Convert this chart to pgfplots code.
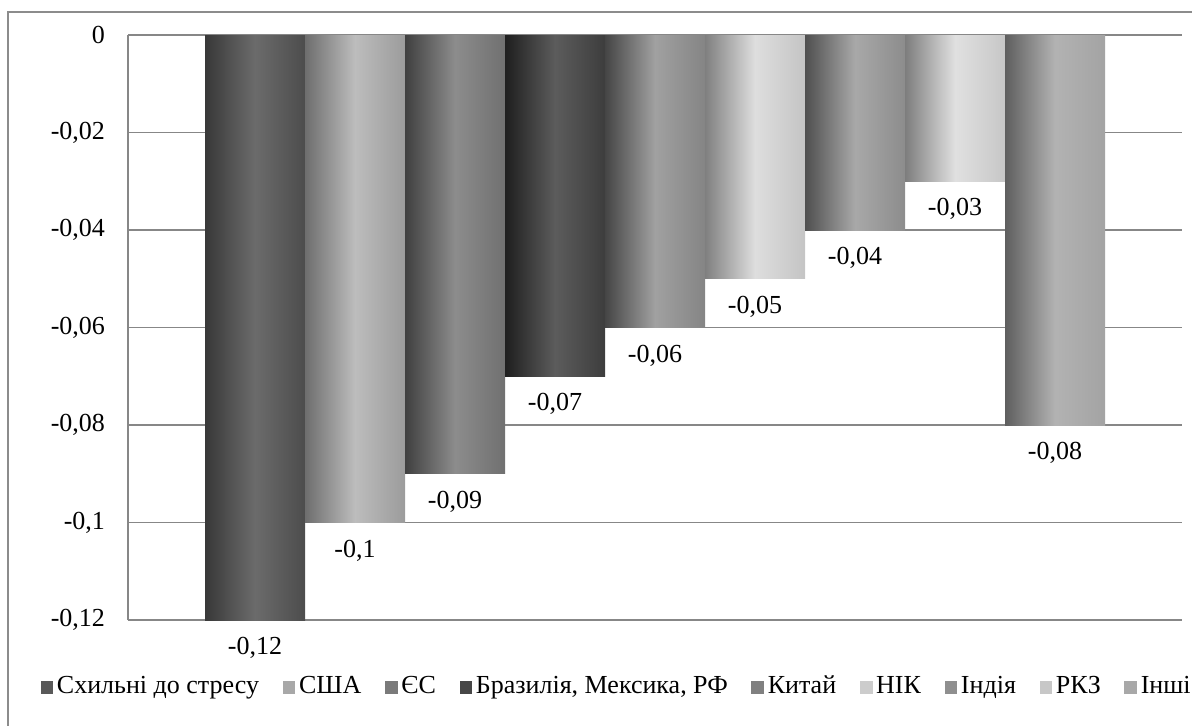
\documentclass[border=0pt]{standalone}
\usepackage{fontspec}
\setmainfont{Liberation Serif}
\usepackage{pgfplots}
\pgfplotsset{compat=1.18}

\newcommand\fs{\fontsize{13}{15}\selectfont}
\definecolor{gridgray}{gray}{0.53}
\definecolor{framegray}{gray}{0.55}

% bar n: left edge, highlight, right edge, legend swatch (gray levels)
\newcommand\defbar[5]{%
  \definecolor{bar#1l}{gray}{#2}%
  \definecolor{bar#1m}{gray}{#3}%
  \definecolor{bar#1r}{gray}{#4}%
  \definecolor{bar#1k}{gray}{#5}}
\defbar{1}{0.22}{0.42}{0.30}{0.35}
\defbar{2}{0.43}{0.74}{0.61}{0.66}
\defbar{3}{0.25}{0.55}{0.44}{0.48}
\defbar{4}{0.12}{0.36}{0.24}{0.28}
\defbar{5}{0.27}{0.63}{0.52}{0.50}
\defbar{6}{0.50}{0.87}{0.77}{0.80}
\defbar{7}{0.31}{0.66}{0.55}{0.56}
\defbar{8}{0.49}{0.88}{0.78}{0.78}
\defbar{9}{0.37}{0.70}{0.64}{0.66}

\pgfplotsset{
  cyl/.style={ybar, bar width=50pt, bar shift=0pt, draw=none,
    left color=bar#1l, right color=bar#1r, middle color=bar#1m,
    legend image code/.code={\path[shade=false, fill=bar#1k, draw=none] (0pt,-3.2pt) rectangle (6.4pt,3.2pt);}},
}

\begin{document}
\begin{tikzpicture}
\draw[framegray, line width=0.8pt] (4pt,-5pt) -- (4pt,356.5pt) -- (600pt,356.5pt);
\begin{axis}[
  at={(64pt,52.5pt)}, anchor=south west,
  scale only axis, width=527pt, height=292.5pt,
  xmin=-0.27, xmax=10.27, ymin=-0.12, ymax=0,
  xtick=\empty,
  ytick={-0.12,-0.10,-0.08,-0.06,-0.04,-0.02,0},
  scaled y ticks=false,
  /pgf/number format/assume math mode=true,
  yticklabel style={font=\fs, xshift=-8pt, /pgf/number format/.cd, use comma, fixed, precision=2},
  major tick length=0pt,
  axis line style={draw=none},
  ymajorgrids, grid style={gridgray, line width=0.8pt},
  clip=false,
  nodes near coords={\pgfmathprintnumber[use comma, fixed, precision=2, assume math mode=true]{\pgfplotspointmeta}},
  every node near coord/.append style={font=\fs, anchor=center, yshift=-14pt, text=black},
  legend style={at={(axis description cs:-0.089,-0.116)}, anchor=west,
    draw=none, fill=none, font=\fs, legend columns=-1,
    nodes={inner xsep=1.8pt, text height=9pt, text depth=3pt},
    /tikz/every even column/.append style={column sep=10pt}},
  legend cell align=left,
]
\addplot[cyl=1] coordinates {(1,-0.12)};
\addlegendentry{Схильні до стресу}
\addplot[cyl=2] coordinates {(2,-0.10)};
\addlegendentry{США}
\addplot[cyl=3] coordinates {(3,-0.09)};
\addlegendentry{ЄС}
\addplot[cyl=4] coordinates {(4,-0.07)};
\addlegendentry{Бразилія, Мексика, РФ}
\addplot[cyl=5] coordinates {(5,-0.06)};
\addlegendentry{Китай}
\addplot[cyl=6] coordinates {(6,-0.05)};
\addlegendentry{НІК}
\addplot[cyl=7] coordinates {(7,-0.04)};
\addlegendentry{Індія}
\addplot[cyl=8] coordinates {(8,-0.03)};
\addlegendentry{РКЗ}
\addplot[cyl=9] coordinates {(9,-0.08)};
\addlegendentry{Інші}
\draw[gridgray, line width=0.8pt] (rel axis cs:0,0) -- (rel axis cs:0,1);
\end{axis}
\pgfresetboundingbox
\path[use as bounding box] (0,0) rectangle (596pt,362.5pt);
\end{tikzpicture}
\end{document}
